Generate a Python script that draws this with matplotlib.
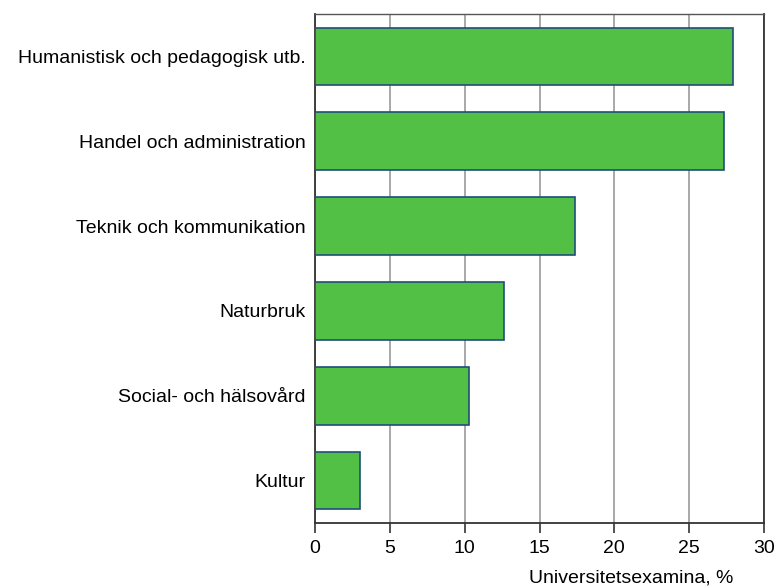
import matplotlib
matplotlib.use("Agg")
import matplotlib.pyplot as plt

categories = [
    "Humanistisk och pedagogisk utb.",
    "Handel och administration",
    "Teknik och kommunikation",
    "Naturbruk",
    "Social- och hälsovård",
    "Kultur",
]
values = [27.9, 27.3, 17.4, 12.6, 10.3, 3.0]
xticks = [0, 5, 10, 15, 20, 25, 30]

_GREEN = "#52bf45"
_EDGE = "#1f4f7a"
_GRID = "#9a9a9a"

plt.rcParams["font.family"] = ["Liberation Sans", "DejaVu Sans"]
_FS = 14

fig = plt.figure(figsize=(7.77, 5.88), dpi=100)
ax = fig.add_axes([315 / 777, 1 - 523 / 588, (764 - 315) / 777, (523 - 14) / 588])

pos = list(range(len(categories)))
ax.barh(pos, values, height=0.68, color=_GREEN, edgecolor=_EDGE, linewidth=1.2, zorder=3)

ax.set_ylim(len(categories) - 0.5, -0.5)
ax.set_xlim(0, 30)
ax.set_xticks(xticks)
ax.set_xticklabels([str(t) for t in xticks], fontsize=_FS)
ax.set_yticks(pos)
ax.set_yticklabels(categories, fontsize=_FS)
ax.tick_params(axis="y", length=0, pad=7)
ax.tick_params(axis="x", length=7, width=1.2, direction="out", pad=5, color="#333333")

ax.grid(True, axis="x", color=_GRID, linewidth=1.2, zorder=0)
for s in ["left", "bottom", "right"]:
    ax.spines[s].set_color("#333333")
    ax.spines[s].set_linewidth(1.3)
ax.spines["top"].set_color("#555555")
ax.spines["top"].set_linewidth(1.0)

fig.text(733 / 777, 1 - 578 / 588, "Universitetsexamina, %", ha="right", va="center", fontsize=_FS)

fig.savefig("out.png", dpi=100, facecolor="white")
